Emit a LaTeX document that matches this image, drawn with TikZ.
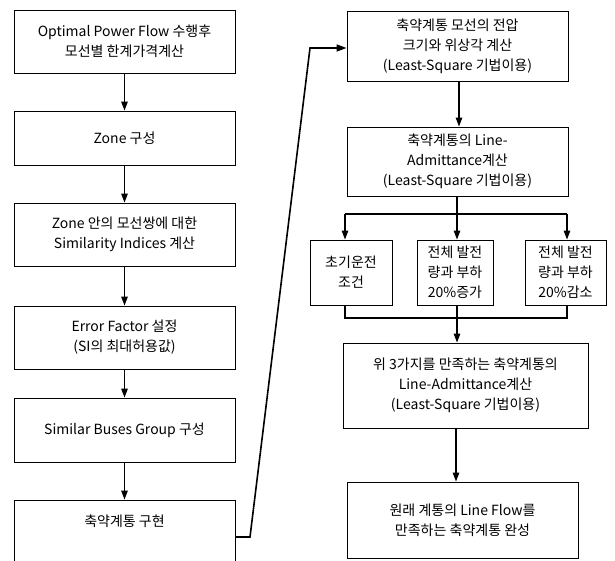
\documentclass[tikz,border=0pt]{standalone}
\usepackage{fontspec}
\setmainfont{Noto Sans CJK KR}
\usetikzlibrary{arrows.meta}
\begin{document}
\begin{tikzpicture}[x=1pt,y=-1pt,
  box/.style={draw, line width=0.9pt, rectangle, align=center, inner sep=2pt,
    font=\fontsize{14}{20}\selectfont},
  arr/.style={line width=1.3pt, -{Triangle[length=9pt,width=6.5pt]}},
  ln/.style={line width=1.3pt},
  conn/.style={line width=1.6pt, -{Triangle[length=10pt,width=7pt]}}]
\useasboundingbox (0,0) rectangle (615,561);
\clip (0,0) rectangle (615,561);
% left column
\node[box, minimum width=221pt, minimum height=63pt] (b1) at (124.5,41.5)
  {Optimal Power Flow 수행후\\모선별 한계가격계산};
\node[box, minimum width=221pt, minimum height=54pt] (b2) at (124.5,138)
  {Zone 구성};
\node[box, minimum width=221pt, minimum height=63pt] (b3) at (124.5,234.5)
  {Zone 안의 모선쌍에 대한\\Similarity Indices 계산};
\node[box, minimum width=221pt, minimum height=63pt] (b4) at (124.5,337.5)
  {Error Factor 설정\\(SI의 최대허용값)};
\node[box, minimum width=221pt, minimum height=64pt] (b5) at (124.5,430)
  {Similar Buses Group 구성};
\node[box, minimum width=221pt, minimum height=84pt, text depth=42pt] (b6) at (124.5,542)
  {축약계통 구현};
\foreach \a/\b in {b1/b2,b2/b3,b3/b4,b4/b5,b5/b6}
  \draw[arr] (\a.south) -- (\b.north);
% right column
\node[box, minimum width=221pt, minimum height=70pt] (b7) at (457.5,46)
  {축약계통 모선의 전압\\크기와 위상각 계산\\(Least-Square 기법이용)};
\node[box, minimum width=221pt, minimum height=69pt] (b8) at (457.5,161.5)
  {축약계통의 Line-\\Admittance계산\\(Least-Square 기법이용)};
\node[box, minimum width=82pt, minimum height=65pt] (b9) at (351,272.5)
  {초기운전\\조건};
\node[box, minimum width=76pt, minimum height=65pt] (b10) at (455,272.5)
  {전체 발전\\량과 부하\\20\%증가};
\node[box, minimum width=81pt, minimum height=65pt] (b11) at (565.5,272.5)
  {전체 발전\\량과 부하\\20\%감소};
\node[box, minimum width=245pt, minimum height=85pt] (b12) at (465.5,385.5)
  {위 3가지를 만족하는 축약계통의\\Line-Admittance계산\\(Least-Square 기법이용)};
\node[box, minimum width=231pt, minimum height=76pt] (b13) at (462.5,520)
  {원래 계통의 Line Flow를\\만족하는 축약계통 완성};
\draw[arr] (b7.south -| 459,0) -- (b8.north -| 459,0);
% branch
\coordinate (br) at (457,214);
\draw[ln] (b8.south -| br) -- (br);
\draw[ln] (345,214) -- (567,214);
\draw[arr] (br -| 345,0) -- (b9.north -| 345,0);
\draw[arr] (br) -- (b10.north -| br);
\draw[arr] (br -| 567,0) -- (b11.north -| 567,0);
% merge
\coordinate (mg) at (457,318);
\draw[ln] (b9.south -| 345,0) -- (mg -| 345,0) -- (mg -| 567,0) -- (b11.south -| 567,0);
\draw[ln] (b10.south -| mg) -- (mg);
\draw[arr] (mg) -- (b12.north -| mg);
\draw[arr] (b12.south -| 456,0) -- (b13.north -| 456,0);
% long connector
\draw[conn] (b6.east |- 0,537) -- (250,537) -- (310,48) -- (b7.west |- 0,48);
\end{tikzpicture}
\end{document}
